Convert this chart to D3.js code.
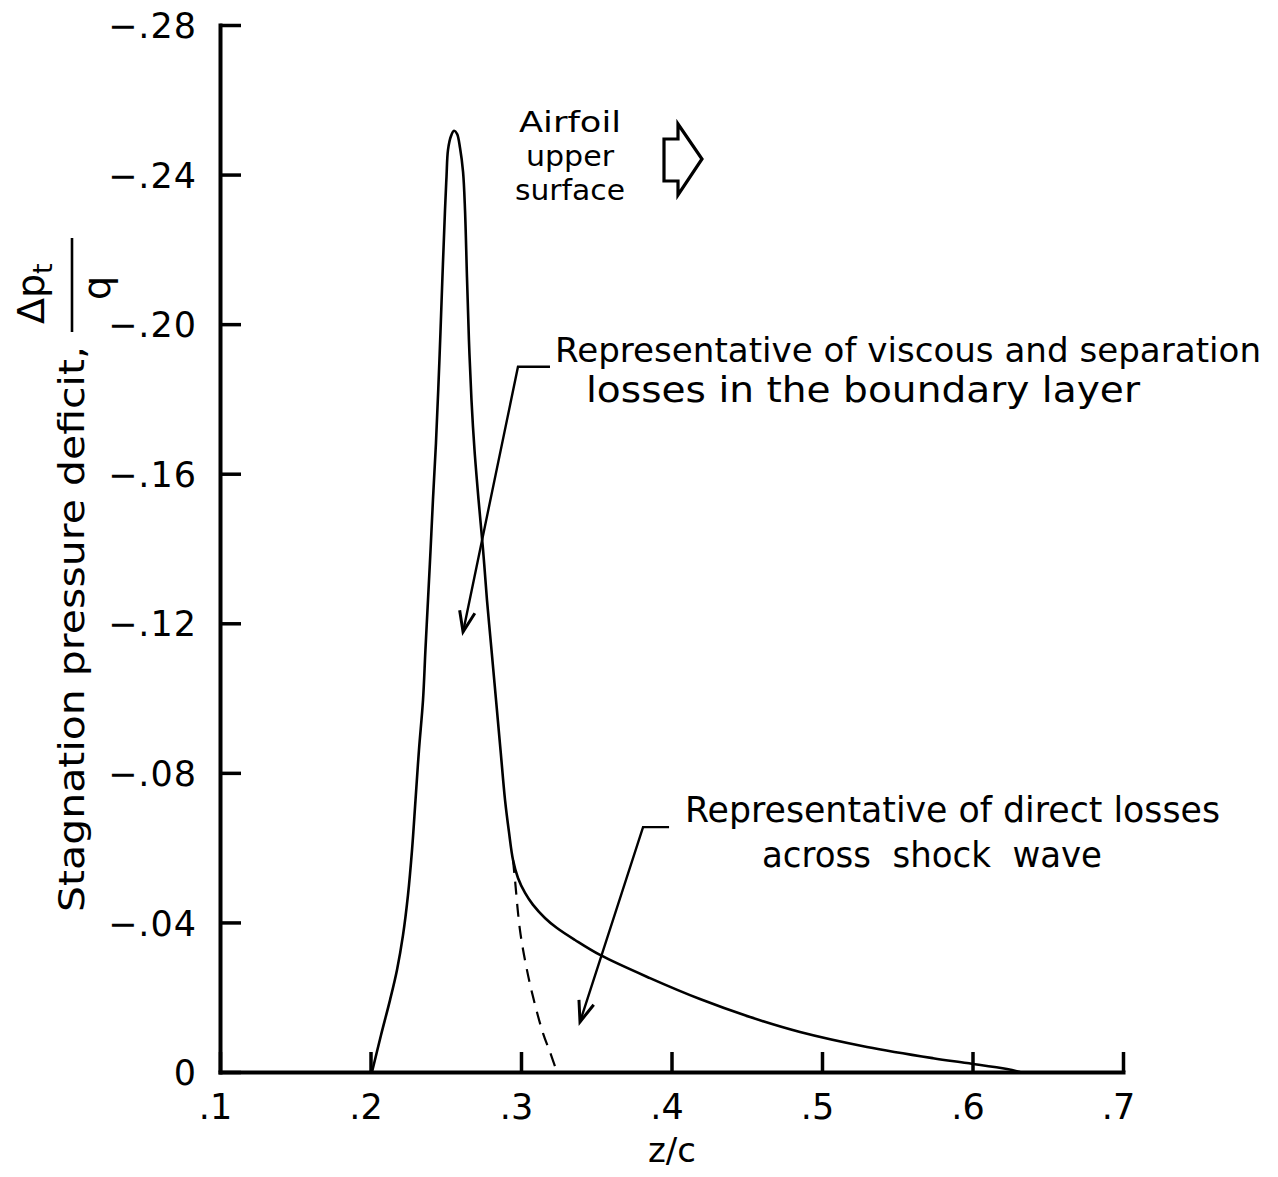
<!DOCTYPE html>
<html>
<head>
<meta charset="utf-8">
<script src="https://cdn.jsdelivr.net/npm/d3@7/dist/d3.min.js"></script>
<style>
  html, body { margin: 0; padding: 0; background: #fff; }
  svg { display: block; }
  text { font-family: "DejaVu Sans", "Liberation Sans", sans-serif; fill: #000; }
</style>
</head>
<body>
<svg id="chart" width="1278" height="1177"></svg>
<script>
// Stagnation pressure deficit across the wake, z/c vs Δp_t/q

// Solid curve: boundary-layer peak followed by the shock-loss tail
const mainZ = [0.2010, 0.2070, 0.2130, 0.2176, 0.2216, 0.2249, 0.2276, 0.2299, 0.2322, 0.2349,
               0.2365, 0.2382, 0.2399, 0.2415, 0.2435, 0.2458, 0.2478, 0.2495, 0.2505, 0.2515,
               0.2535, 0.2555, 0.2575, 0.2595, 0.2615, 0.2628, 0.2641, 0.2654, 0.2671, 0.2691,
               0.2718, 0.2748, 0.2774, 0.2804, 0.2834, 0.2864, 0.2894, 0.2920, 0.2947, 0.2980,
               0.3027, 0.3080, 0.3159, 0.3239, 0.3359, 0.3525, 0.3857, 0.4189, 0.4522, 0.4854,
               0.5299, 0.5738, 0.5963, 0.6229, 0.6316];
const mainDp = [0, -0.0099, -0.0193, -0.0273, -0.0366, -0.0473, -0.0594, -0.0727, -0.0861, -0.0995,
                -0.1129, -0.1262, -0.1396, -0.1530, -0.1682, -0.1904, -0.2126, -0.2305, -0.2394, -0.2466,
                -0.2503, -0.2517, -0.2509, -0.2471, -0.2407, -0.2305, -0.2126, -0.1958, -0.1797, -0.1664,
                -0.1530, -0.1396, -0.1262, -0.1129, -0.0995, -0.0861, -0.0727, -0.0642, -0.0567, -0.0519,
                -0.0479, -0.0447, -0.0412, -0.0385, -0.0353, -0.0313, -0.0251, -0.0195, -0.0147, -0.0107,
                -0.0067, -0.0037, -0.0024, -0.0008, 0];

// Dashed branch: viscous loss alone, dropping to zero behind the kink
const dashZ = [0.2947, 0.2960, 0.2993, 0.3033, 0.3080, 0.3146, 0.3193, 0.3239];
const dashDp = [-0.0567, -0.0514, -0.0380, -0.0286, -0.0201, -0.0104, -0.0053, 0];

// Axis ticks
const xTicks = [0.1, 0.2, 0.3, 0.4, 0.5, 0.6, 0.7];
const xTickLabels = [".1", ".2", ".3", ".4", ".5", ".6", ".7"];
const yTicks = [-0.28, -0.24, -0.20, -0.16, -0.12, -0.08, -0.04, 0];
const yTickLabels = ["\u2212.28", "\u2212.24", "\u2212.20", "\u2212.16", "\u2212.12", "\u2212.08", "\u2212.04", "0"];

// Callouts: leader elbow and arrow tip, in data units
const callouts = [
  { elbow: [0.2980, -0.1886], tip: [0.2615, -0.1177], barLen: 32,
    lines: ["Representative of viscous and separation", "losses in the boundary layer"] },
  { elbow: [0.3811, -0.0655], tip: [0.3392, -0.0134], barLen: 26,
    lines: ["Representative of direct losses", "across  shock  wave"] }
];

const svg = d3.select("#chart");

const x = d3.scaleLinear().domain([0.1, 0.7]).range([220, 1123]);
const y = d3.scaleLinear().domain([0, -0.28]).range([1072, 25]);

// Axes, ticks pointing inward
const xAxis = d3.axisBottom(x)
  .tickValues(xTicks)
  .tickFormat((d, i) => xTickLabels[i])
  .tickSizeInner(-20).tickSizeOuter(0).tickPadding(22);
const yAxis = d3.axisLeft(y)
  .tickValues(yTicks)
  .tickFormat((d, i) => yTickLabels[i])
  .tickSizeInner(-21).tickSizeOuter(0).tickPadding(24);

const gx = svg.append("g").attr("transform", `translate(0,${y(0)})`).call(xAxis);
const gy = svg.append("g").attr("transform", `translate(${x(0.1)},0)`).call(yAxis);

[gx, gy].forEach(g => {
  g.select(".domain").attr("stroke", "#000").attr("stroke-width", 4).attr("stroke-linecap", "square");
  g.selectAll(".tick line").attr("stroke", "#000").attr("stroke-width", 3.5);
  g.selectAll(".tick text").attr("font-size", 35).attr("fill", "#000")
    .style("font-family", '"DejaVu Sans", sans-serif');
});
gx.selectAll(".tick text").attr("dx", -5);
gy.selectAll(".tick text").attr("dy", "0.36em")
  .attr("textLength", (d, i) => yTickLabels[i].length > 1 ? 88 : null)
  .attr("lengthAdjust", "spacing");

// Curves
const line = d3.line().x(d => x(d[0])).y(d => y(d[1])).curve(d3.curveCatmullRom.alpha(0.5));
svg.append("path")
  .datum(mainZ.map((z, i) => [z, mainDp[i]]))
  .attr("d", line)
  .attr("fill", "none").attr("stroke", "#000").attr("stroke-width", 2.6)
  .attr("stroke-linejoin", "round");
svg.append("path")
  .datum(dashZ.map((z, i) => [z, dashDp[i]]))
  .attr("d", line)
  .attr("fill", "none").attr("stroke", "#000").attr("stroke-width", 2.2)
  .attr("stroke-dasharray", "13,9");

// Axis titles
svg.append("text")
  .attr("x", 672).attr("y", 1162)
  .attr("text-anchor", "middle").attr("font-size", 34)
  .text("z/c");

const yl = svg.append("g").attr("transform", "translate(84,912) rotate(-90)");
yl.append("text")
  .attr("x", 0).attr("y", 0).attr("font-size", 36)
  .attr("textLength", 566).attr("lengthAdjust", "spacingAndGlyphs")
  .text("Stagnation pressure deficit,");
yl.append("text")
  .attr("x", 588).attr("y", -40).attr("font-size", 38)
  .call(t => {
    t.append("tspan").text("\u0394p");
    t.append("tspan").attr("font-size", 27).attr("dy", 8).text("t");
  });
yl.append("line")
  .attr("x1", 580).attr("x2", 674).attr("y1", -12).attr("y2", -12)
  .attr("stroke", "#000").attr("stroke-width", 2.6);
yl.append("text")
  .attr("x", 624).attr("y", 26).attr("text-anchor", "middle").attr("font-size", 38)
  .text("q");

// Callout leaders, arrows and notes
function arrowHead(tip, from, len, ang) {
  const dx = tip[0] - from[0], dy = tip[1] - from[1];
  const L = Math.hypot(dx, dy), ux = dx / L, uy = dy / L;
  const rot = a => [tip[0] - len * (ux * Math.cos(a) - uy * Math.sin(a)),
                    tip[1] - len * (uy * Math.cos(a) + ux * Math.sin(a))];
  const a = rot(ang), b = rot(-ang);
  return `M${a[0]},${a[1]}L${tip[0]},${tip[1]}L${b[0]},${b[1]}`;
}

const textPos = [
  [{ x: 555, y: 362, w: 706, fs: 34 }, { x: 586, y: 402, w: 554, fs: 36 }],
  [{ x: 685, y: 822, w: 535, fs: 36 }, { x: 762, y: 867, w: 340, fs: 36 }]
];

callouts.forEach((c, k) => {
  const e = [x(c.elbow[0]), y(c.elbow[1])];
  const t = [x(c.tip[0]), y(c.tip[1])];
  svg.append("path")
    .attr("d", `M${e[0] + c.barLen},${e[1]}L${e[0]},${e[1]}L${t[0]},${t[1]}`)
    .attr("fill", "none").attr("stroke", "#000").attr("stroke-width", 2.4);
  svg.append("path")
    .attr("d", arrowHead(t, e, 22, 0.36))
    .attr("fill", "none").attr("stroke", "#000").attr("stroke-width", 3)
    .attr("stroke-linejoin", "miter");
  c.lines.forEach((s, j) => {
    const p = textPos[k][j];
    svg.append("text")
      .attr("x", p.x).attr("y", p.y).attr("font-size", p.fs)
      .attr("textLength", p.w).attr("lengthAdjust", "spacingAndGlyphs")
      .style("white-space", "pre")
      .text(s);
  });
});

// Flow-direction note with outline arrow
const noteLines = [
  { s: "Airfoil", y: 132, w: 102 },
  { s: "upper", y: 166, w: 88 },
  { s: "surface", y: 200, w: 110 }
];
noteLines.forEach(n => {
  svg.append("text")
    .attr("x", 570).attr("y", n.y).attr("text-anchor", "middle").attr("font-size", 28)
    .attr("textLength", n.w).attr("lengthAdjust", "spacingAndGlyphs")
    .text(n.s);
});
svg.append("path")
  .attr("d", "M664,139L678,139L678,124L702,159L678,195L678,181L664,181Z")
  .attr("fill", "none").attr("stroke", "#000").attr("stroke-width", 3.2)
  .attr("stroke-linejoin", "miter");
</script>
</body>
</html>
